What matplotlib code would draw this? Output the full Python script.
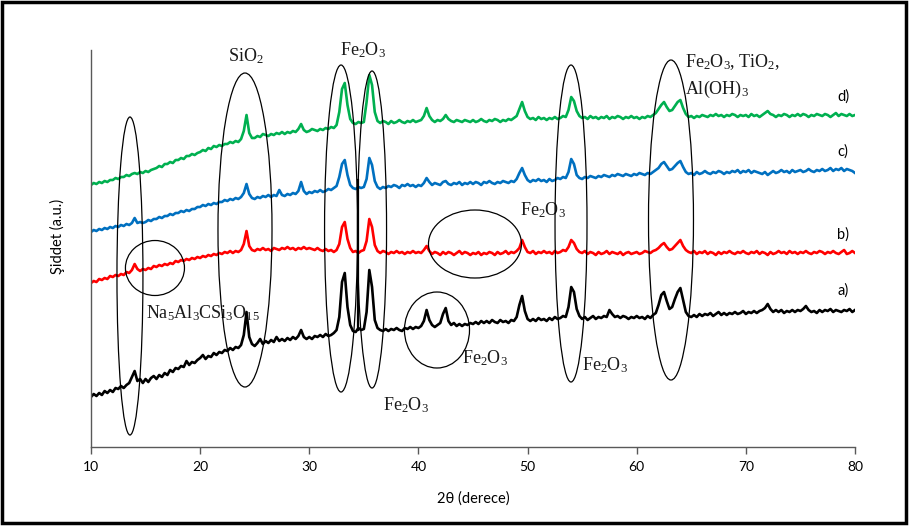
import numpy as np
import matplotlib
matplotlib.use("Agg")
import matplotlib.pyplot as plt
from matplotlib.patches import Ellipse, Rectangle

plt.rcParams['mathtext.fontset'] = 'custom'
plt.rcParams['mathtext.rm'] = 'Liberation Serif'
plt.rcParams['mathtext.it'] = 'Liberation Serif'

# ---------------- data ----------------
two_theta = np.arange(10.0, 80.001, 0.25)

int_a = [
    50, 53, 51, 54, 52, 56, 54, 57, 55, 59, 58, 61, 59, 62, 64, 70, 76, 66, 68, 64,
    68, 65, 69, 71, 68, 72, 70, 74, 72, 77, 75, 79, 78, 81, 80, 86, 82, 85, 84, 87,
    89, 92, 88, 91, 90, 94, 92, 95, 94, 97, 96, 99, 97, 100, 99, 102, 112, 135, 110, 103,
    101, 104, 108, 103, 106, 104, 107, 105, 110, 106, 108, 106, 109, 107, 110, 108, 111, 117, 110, 108,
    110, 108, 111, 110, 112, 110, 113, 111, 112, 114, 117, 130, 165, 174, 140, 122, 116, 115, 119, 117,
    118, 135, 177, 160, 127, 119, 117, 116, 118, 116, 118, 117, 119, 117, 116, 119, 118, 120, 118, 120,
    119, 121, 126, 137, 127, 122, 120, 122, 124, 133, 139, 126, 122, 124, 121, 123, 121, 123, 122, 124,
    123, 125, 123, 126, 124, 126, 124, 127, 125, 124, 127, 125, 126, 124, 127, 126, 130, 142, 151, 136,
    128, 126, 128, 126, 129, 127, 128, 126, 129, 127, 130, 128, 129, 131, 130, 140, 160, 155, 138, 131,
    128, 130, 127, 129, 131, 128, 130, 129, 131, 130, 137, 133, 130, 131, 129, 131, 130, 128, 130, 129,
    131, 129, 130, 128, 131, 129, 132, 134, 142, 152, 155, 146, 138, 140, 148, 155, 159, 147, 135, 131,
    130, 132, 130, 133, 131, 133, 132, 134, 131, 133, 135, 132, 134, 132, 134, 133, 135, 133, 134, 136,
    133, 135, 134, 136, 134, 136, 137, 139, 143, 138, 135, 137, 135, 137, 134, 136, 135, 137, 135, 137,
    136, 138, 141, 137, 135, 136, 134, 137, 135, 137, 136, 138, 135, 137, 136, 135, 137, 136, 138, 135,
    137]

int_b = [
    164, 166, 165, 168, 167, 169, 168, 171, 170, 172, 171, 173, 172, 175, 174, 177, 183, 178, 176, 178,
    177, 179, 178, 181, 180, 182, 181, 183, 182, 184, 183, 186, 185, 187, 186, 188, 187, 189, 188, 190,
    189, 191, 190, 192, 191, 193, 192, 194, 193, 195, 194, 196, 194, 196, 195, 197, 203, 216, 201, 197,
    196, 198, 197, 199, 197, 198, 196, 199, 198, 197, 199, 198, 200, 198, 199, 197, 199, 198, 200, 198,
    199, 198, 197, 199, 197, 196, 198, 196, 197, 195, 197, 203, 220, 225, 208, 199, 195, 196, 194, 196,
    197, 206, 228, 220, 202, 196, 194, 196, 195, 193, 195, 194, 196, 194, 195, 193, 195, 194, 196, 194,
    195, 194, 197, 201, 196, 193, 195, 194, 192, 195, 193, 195, 194, 192, 194, 196, 193, 195, 194, 192,
    194, 193, 195, 192, 194, 193, 195, 194, 192, 195, 193, 194, 196, 193, 195, 194, 196, 199, 207, 200,
    195, 194, 196, 193, 195, 194, 196, 194, 195, 193, 196, 194, 195, 197, 196, 200, 207, 204, 198, 195,
    194, 196, 193, 195, 194, 192, 195, 193, 194, 196, 193, 195, 194, 193, 195, 192, 194, 195, 193, 194,
    195, 193, 194, 196, 195, 194, 196, 197, 199, 202, 204, 200, 197, 198, 201, 204, 207, 201, 197, 195,
    194, 196, 193, 195, 194, 196, 193, 195, 194, 192, 195, 193, 195, 194, 196, 194, 193, 195, 194, 196,
    194, 193, 195, 194, 196, 193, 195, 194, 192, 195, 193, 194, 196, 194, 195, 193, 196, 194, 195, 193,
    195, 194, 196, 194, 193, 195, 194, 196, 195, 193, 195, 194, 196, 194, 193, 195, 197, 193, 194, 196,
    194]

int_c = [
    215, 217, 216, 218, 217, 219, 218, 220, 219, 221, 220, 222, 221, 223, 222, 224, 229, 224, 225, 224,
    225, 227, 226, 228, 228, 230, 229, 231, 231, 233, 232, 234, 234, 236, 235, 237, 236, 238, 238, 240,
    240, 242, 241, 243, 242, 244, 243, 245, 245, 247, 246, 248, 247, 249, 248, 250, 254, 263, 253, 249,
    248, 250, 249, 251, 250, 252, 250, 252, 251, 257, 252, 251, 253, 252, 254, 253, 256, 265, 256, 253,
    255, 254, 256, 255, 257, 255, 256, 258, 257, 259, 261, 270, 283, 287, 272, 262, 259, 258, 260, 259,
    260, 268, 289, 282, 266, 260, 258, 260, 259, 261, 260, 262, 261, 259, 262, 261, 263, 261, 262, 260,
    262, 261, 264, 269, 265, 262, 264, 263, 262, 265, 266, 263, 262, 264, 263, 265, 262, 264, 263, 265,
    263, 265, 264, 262, 265, 264, 266, 264, 263, 265, 264, 266, 265, 264, 266, 265, 268, 274, 279, 272,
    267, 265, 267, 266, 268, 266, 267, 265, 268, 266, 267, 269, 268, 270, 269, 275, 288, 283, 272, 269,
    268, 270, 269, 271, 270, 269, 271, 270, 272, 271, 270, 272, 271, 273, 272, 271, 273, 272, 271, 273,
    272, 274, 273, 272, 274, 273, 275, 277, 279, 283, 285, 281, 277, 278, 281, 284, 286, 280, 275, 273,
    274, 272, 275, 273, 274, 276, 274, 273, 275, 274, 276, 275, 273, 275, 274, 276, 275, 277, 274, 276,
    275, 277, 274, 276, 275, 274, 273, 275, 272, 274, 276, 274, 275, 277, 275, 276, 274, 277, 275, 276,
    277, 275, 276, 278, 276, 275, 277, 276, 278, 276, 277, 279, 276, 278, 277, 279, 276, 278, 277, 276,
    274]

int_d = [
    262, 264, 263, 265, 264, 266, 265, 267, 267, 269, 268, 270, 270, 272, 271, 273, 274, 273, 275, 274,
    276, 275, 277, 278, 279, 281, 280, 283, 283, 285, 284, 287, 287, 289, 288, 291, 291, 293, 292, 294,
    295, 297, 296, 299, 298, 301, 300, 302, 301, 303, 303, 305, 304, 306, 305, 308, 316, 332, 314, 309,
    309, 311, 310, 313, 312, 311, 313, 312, 314, 313, 315, 313, 315, 314, 316, 315, 318, 323, 317, 315,
    316, 318, 317, 316, 318, 317, 319, 318, 320, 319, 322, 335, 358, 364, 342, 328, 324, 323, 325, 324,
    325, 345, 372, 362, 335, 326, 324, 326, 325, 323, 326, 324, 325, 327, 325, 324, 326, 325, 327, 325,
    326, 327, 331, 339, 331, 327, 325, 327, 326, 328, 332, 328, 326, 325, 327, 326, 325, 327, 326, 325,
    327, 325, 326, 328, 326, 325, 327, 326, 328, 327, 325, 327, 326, 328, 327, 329, 331, 338, 345, 336,
    330, 328, 329, 327, 330, 328, 329, 327, 329, 328, 330, 328, 329, 331, 330, 337, 350, 346, 336, 331,
    329, 330, 328, 331, 329, 330, 328, 330, 329, 331, 328, 330, 329, 331, 330, 328, 330, 329, 331, 329,
    330, 328, 330, 329, 331, 330, 332, 334, 338, 342, 345, 340, 336, 337, 341, 345, 347, 339, 333, 330,
    331, 329, 331, 330, 332, 331, 330, 332, 331, 333, 331, 332, 330, 332, 331, 333, 332, 330, 332, 331,
    332, 330, 333, 331, 332, 330, 332, 334, 336, 333, 332, 330, 332, 331, 333, 332, 330, 332, 331, 333,
    331, 333, 332, 330, 332, 331, 333, 332, 331, 333, 332, 330, 332, 334, 331, 333, 332, 331, 333, 331,
    332]

series_labels = ['a)', 'b)', 'c)', 'd)']
series_colors = ['#000000', '#FF0000', '#0070C0', '#00B050']
x_ticks = [10, 20, 30, 40, 50, 60, 70, 80]

# ---------------- figure ----------------
fig = plt.figure(figsize=(9.09, 5.27), dpi=100)
ax = fig.add_axes([0.1001, 0.1518, 0.8405, 0.7533])

for yv, col in zip([int_a, int_b, int_c, int_d], series_colors):
    ax.plot(two_theta, yv, color=col, lw=1.9, solid_joinstyle='round')

ax.set_xlim(10, 80)
ax.set_ylim(0, 397)
ax.set_xticks(x_ticks)
ax.set_yticks([])
for s in ['top', 'right']:
    ax.spines[s].set_visible(False)
for s in ['left', 'bottom']:
    ax.spines[s].set_color('#595959')
    ax.spines[s].set_linewidth(1.0)
ax.tick_params(axis='x', direction='out', length=5, width=1, color='#595959',
               labelsize=10, pad=5)
for lab in ax.get_xticklabels():
    lab.set_fontfamily('Lato')

ax.set_xlabel('2θ (derece)', fontsize=10.5, family='Lato')
ax.xaxis.set_label_coords(0.5, -0.112)
ax.set_ylabel('Şiddet (a.u.)', fontsize=10.5, family='Lato')
ax.yaxis.set_label_coords(-0.034, 0.53)

# series labels at right
label_pos = [(78.9, 156), (78.9, 212), (78.9, 295), (78.9, 350)]
for lab, (lx, ly) in zip(series_labels, label_pos):
    ax.text(lx, ly, lab, fontsize=10.5, family='Lato', ha='center', va='center')

# ellipses (center x, center y, width, height)
ellipses = [
    (13.57, 171, 2.38, 318),
    (24.11, 217, 4.95, 314),
    (32.91, 218.5, 3.02, 327),
    (35.75, 217.5, 2.66, 317),
    (53.98, 223.5, 2.93, 317),
    (63.14, 227, 4.12, 320),
    (15.86, 179, 5.41, 55),
    (45.18, 203, 8.52, 68),
    (41.70, 117, 5.96, 76),
]
for cx, cy, w, h in ellipses:
    ax.add_patch(Ellipse((cx, cy), w, h, fill=False, ec='black', lw=0.9,
                         clip_on=False, zorder=5))

ax.plot([34.46, 34.46], [117, 267], color='black', lw=1.6, zorder=5)

# annotations
serif = dict(family='Liberation Serif', fontsize=13, color='#1a1a1a')
fe = 'Fe$_2$O$_3$'
ax.text(24.2, 391, 'SiO$_2$', ha='center', va='center', **serif)
ax.text(34.92, 397, fe, ha='center', va='center', **serif)
ax.text(64.43, 385, 'Fe$_2$O$_3$, TiO$_2$,', ha='left', va='center', **serif)
ax.text(64.43, 358, 'Al(OH)$_3$', ha='left', va='center', **serif)
ax.text(51.41, 237, fe, ha='center', va='center', **serif)
ax.text(15.04, 134, 'Na$_5$Al$_3$CSi$_3$O$_{15}$', ha='left', va='center', **serif)
ax.text(38.86, 42, fe, ha='center', va='center', **serif)
ax.text(43.99, 89, fe, ha='left', va='center', **serif)
ax.text(54.99, 82, fe, ha='left', va='center', **serif)

# outer frame
fig.patches.append(Rectangle((2 / 909, 4 / 527), 904 / 909, 521 / 527,
                             transform=fig.transFigure, fill=False,
                             ec='black', lw=2.5))

fig.savefig('out.png', dpi=100)
